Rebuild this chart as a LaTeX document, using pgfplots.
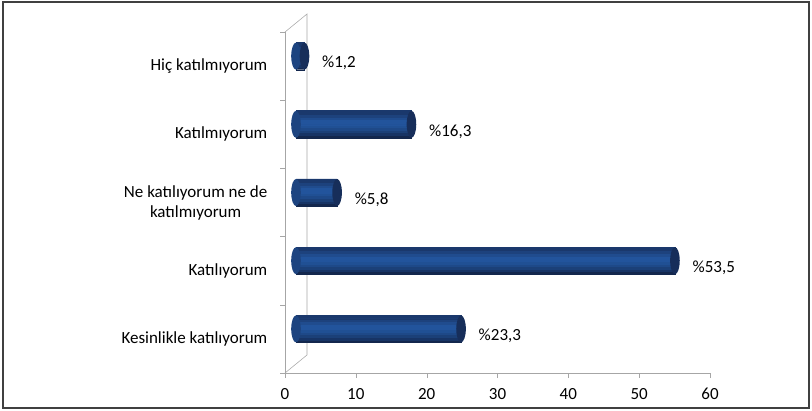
\documentclass[border=0pt]{standalone}
\usepackage{pgfplots}
\pgfplotsset{compat=1.18}
\usepackage{pgfplotstable}
\usepackage{fontspec}
\setmainfont{Carlito}

\definecolor{barTop}{HTML}{1A386C}
\definecolor{barMid}{HTML}{22549C}
\definecolor{barBot}{HTML}{13274D}
\definecolor{capCol}{HTML}{172E5A}
\definecolor{axGray}{HTML}{A6A6A6}
\definecolor{frameGray}{HTML}{404040}
% strips of the cylinder, bottom (s0) to top (s9)
\colorlet{s0}{barBot}
\colorlet{s1}{barBot!70!barMid}
\colorlet{s2}{barBot!45!barMid}
\colorlet{s3}{barBot!25!barMid}
\colorlet{s4}{barBot!10!barMid}
\colorlet{s5}{barMid}
\colorlet{s6}{barMid}
\colorlet{s7}{barMid!70!barTop}
\colorlet{s8}{barMid!35!barTop}
\colorlet{s9}{barTop}

% 0 = bottom category
\pgfplotstableread{
y val
0 23.3
1 53.5
2 5.8
3 16.3
4 1.2
}\answers

% caps of the cylinders, moved back to mid depth
\pgfdeclareplotmark{cap}{%
  \pgfpathellipse{\pgfqpoint{8.25bp}{7.5bp}}{\pgfqpoint{3.6bp}{0pt}}{\pgfqpoint{0pt}{10.1bp}}%
  \pgfusepathqfill}

\newcommand{\chartfont}{\fontsize{12.75bp}{15bp}\selectfont}

\begin{document}
\begin{tikzpicture}
\useasboundingbox (0,0) rectangle (609bp,308.25bp);
\draw[frameGray, line width=1.2bp] (2.4bp,2.4bp) rectangle (606.6bp,306.6bp);
\begin{axis}[
    at={(213.75bp,28.5bp)}, anchor=south west,
    scale only axis, width=318.75bp, height=255.75bp,
    xmin=0, xmax=60, ymin=-0.5, ymax=4.5,
    axis x line*=bottom, axis y line*=left,
    axis line style={draw=axGray, -},
    tick style={draw=axGray},
    tick align=outside, major tick length=3.75bp,
    xtick={0,10,...,60},
    ytick={-0.5,0.5,1.5,2.5,3.5,4.5},
    yticklabels={},
    extra y ticks={0,1,2,3,4},
    extra y tick labels={Kesinlikle katılıyorum, Katılıyorum, Ne katılıyorum ne de\\katılmıyorum, Katılmıyorum, Hiç katılmıyorum},
    extra y tick style={tick style={draw=none}},
    tick label style={font=\chartfont, text=black},
    yticklabel style={align=center, xshift=-6bp},
    xticklabel style={yshift=-4bp},
    /pgf/number format/assume math mode=true,
    clip=false,
]
% back wall of the 3D frame
\draw[axGray] (rel axis cs:0,1) -- ([shift={(16.5bp,13.5bp)}]rel axis cs:0,1)
  -- ([shift={(16.5bp,13.5bp)}]rel axis cs:0,0) -- (rel axis cs:0,0);

\addplot[only marks, mark=cap, color=barBot!35!barMid, forget plot] table[x expr=0, y=y]{\answers};
\pgfplotsinvokeforeach{0,...,9}{
  \addplot[xbar, bar width=2.6bp, bar shift={-2.425bp+(#1+0.5)*1.985bp}, xshift=8.25bp,
    draw=s#1, line width=0.3bp, fill=s#1, forget plot] table[x=val, y=y]{\answers};
}
\addplot[only marks, mark=cap, color=capCol, point meta=x,
  nodes near coords={\%\pgfmathprintnumber[fixed, fixed zerofill, precision=1, use comma]{\pgfplotspointmeta}},
  every node near coord/.append style={anchor=west, xshift=18bp, yshift=2.25bp, font=\chartfont, text=black}
  ] table[x=val, y=y]{\answers};
\end{axis}
\end{tikzpicture}
\end{document}
